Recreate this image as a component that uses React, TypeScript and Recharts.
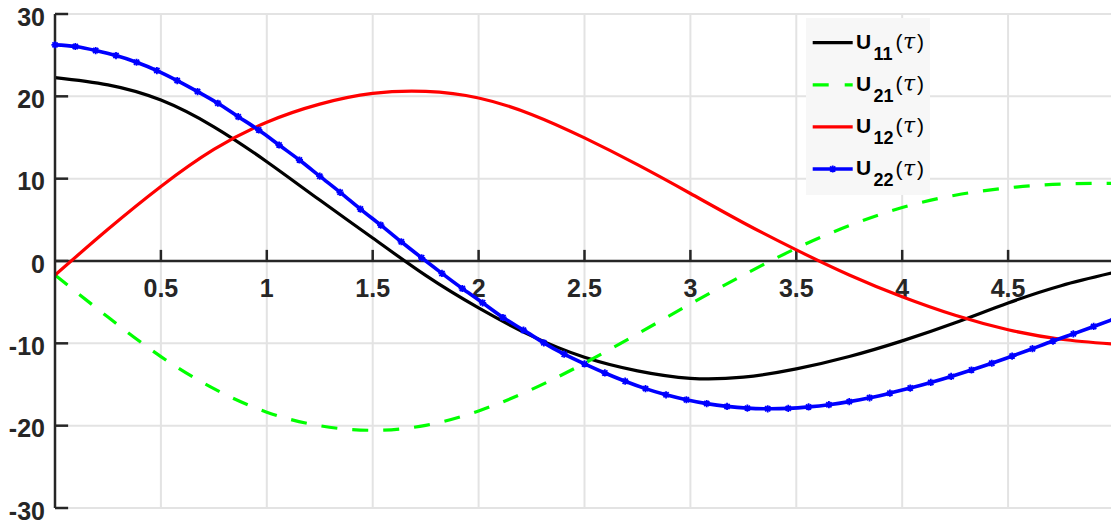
import React from 'react';
import { LineChart, Line, XAxis, YAxis, CartesianGrid, ReferenceLine, Legend } from 'recharts';

// ---- data ----
const tauCoarse = [0, 0.25, 0.5, 0.75, 1, 1.25, 1.5, 1.75, 2, 2.25, 2.5, 2.75, 3, 3.25, 3.5, 3.75, 4, 4.25, 4.5, 4.75, 5];
const u11Values = [22.28, 21.4, 19.55, 16.3, 12.06, 7.4, 2.8, -1.75, -5.7, -9.1, -11.7, -13.35, -14.25, -14.1, -13.1, -11.6, -9.7, -7.5, -5.1, -3.0, -1.4];
const u21Values = [-1.71, -6.81, -11.61, -15.51, -18.36, -20.01, -20.56, -19.96, -18.21, -15.61, -12.41, -8.86, -5.21, -1.71, 1.54, 4.29, 6.49, 7.99, 8.89, 9.34, 9.44];
const u12Values = [-1.71, 3.85, 9.05, 13.55, 16.85, 19.05, 20.35, 20.6, 19.8, 17.8, 14.95, 11.7, 8.2, 4.65, 1.35, -1.7, -4.35, -6.6, -8.35, -9.5, -10.1];

const tauFine = [0, 0.096, 0.192, 0.288, 0.385, 0.481, 0.577, 0.673, 0.769, 0.865, 0.962, 1.058, 1.154, 1.25, 1.346, 1.442, 1.538, 1.635, 1.731, 1.827, 1.923, 2.019, 2.115, 2.212, 2.308, 2.404, 2.5, 2.596, 2.692, 2.788, 2.885, 2.981, 3.077, 3.173, 3.269, 3.365, 3.462, 3.558, 3.654, 3.75, 3.846, 3.942, 4.038, 4.135, 4.231, 4.327, 4.423, 4.519, 4.615, 4.712, 4.808, 4.904, 5.0];
const u22Values = [26.25, 26.05, 25.56, 24.95, 24.14, 23.13, 21.91, 20.58, 19.16, 17.53, 15.91, 14.09, 12.27, 10.3, 8.34, 6.31, 4.36, 2.34, 0.39, -1.51, -3.34, -5.08, -6.86, -8.4, -9.94, -11.32, -12.5, -13.6, -14.6, -15.5, -16.25, -16.85, -17.32, -17.66, -17.87, -17.95, -17.9, -17.72, -17.45, -17.08, -16.62, -16.05, -15.43, -14.75, -14.02, -13.24, -12.42, -11.55, -10.65, -9.72, -8.85, -7.95, -7.05];

const xTicks = [0, 0.5, 1, 1.5, 2, 2.5, 3, 3.5, 4, 4.5, 5];
const xTickLabels = ['0.5', '1', '1.5', '2', '2.5', '3', '3.5', '4', '4.5'];
const yTicks = [-30, -20, -10, 0, 10, 20, 30];

const seriesNames = ['11', '21', '12', '22'];
const seriesColors = ['#000000', '#00ff00', '#ff0000', '#0000ff'];

const toPoints = (xs: number[], ys: number[]) => xs.map((x, i) => ({ x, y: ys[i] }));
const dataU11 = toPoints(tauCoarse, u11Values);
const dataU21 = toPoints(tauCoarse, u21Values);
const dataU12 = toPoints(tauCoarse, u12Values);
const dataU22 = toPoints(tauFine, u22Values);

const AXIS = '#262626';
const FONT = '"Liberation Sans", Arial, Helvetica, sans-serif';

const YTick = (props: any) => (
  <text x={props.x} y={props.y + 11.5} textAnchor="end" fontSize={25} fontWeight="bold" fill={AXIS} fontFamily={FONT}>
    {props.payload.value}
  </text>
);

const XTickLabel = (props: any) => {
  const vb = props.viewBox || {};
  const bottom = (vb.y || 0) + (vb.height || 0);
  return (
    <text x={vb.x} y={bottom + 35.5} textAnchor="middle" fontSize={25} fontWeight="bold" fill={AXIS} fontFamily={FONT}>
      {props.text}
    </text>
  );
};

const starPath = (cx: number, cy: number) =>
  `M${cx - 3.6},${cy}H${cx + 3.6}M${cx},${cy - 3.6}V${cy + 3.6}M${cx - 2.6},${cy - 2.6}L${cx + 2.6},${cy + 2.6}M${cx - 2.6},${cy + 2.6}L${cx + 2.6},${cy - 2.6}`;

const StarDot = (props: any) => {
  const { cx, cy, index } = props;
  if (cx == null || cy == null) return <g key={index} />;
  return <path key={index} d={starPath(cx, cy)} stroke="#0000ff" strokeWidth={1.8} fill="none" />;
};

const LegendBox = () => (
  <svg width={124} height={177} style={{ display: 'block', background: '#f7f7f7' }}>
    {seriesNames.map((s, i) => {
      const cy = 24.7 + 42.1 * i;
      return (
        <g key={s}>
          <line x1={6.7} x2={46.7} y1={cy} y2={cy} stroke={seriesColors[i]} strokeWidth={i === 3 ? 3.5 : 3.2}
            strokeDasharray={i === 1 ? '16 16' : undefined} />
          {i === 3 && <path d={starPath(26.7, cy)} stroke="#0000ff" strokeWidth={1.8} />}
          <text x={50} y={cy + 6.3} fontSize={21} fontWeight="bold" fill="#000" fontFamily={FONT}>U</text>
          <text x={67.5} y={cy + 17} fontSize={18} fontWeight="bold" fill="#000" fontFamily={FONT}>{s}</text>
          <text x={89.5} y={cy + 6.5} fontSize={21} fill="#000" fontFamily={FONT}>(</text>
          <text x={97} y={cy + 6.5} fontSize={22} fontStyle="italic" fill="#000" fontFamily='"DejaVu Serif", "Liberation Serif", serif'>τ</text>
          <text x={111} y={cy + 6.5} fontSize={21} fill="#000" fontFamily={FONT}>)</text>
        </g>
      );
    })}
  </svg>
);

export default function App() {
  return (
    <div style={{ position: 'absolute', left: 0, top: 0, width: 1111, height: 524, overflow: 'hidden', background: '#ffffff' }}>
      <LineChart width={1120} height={524} margin={{ top: 14, right: 6, bottom: 16, left: 0 }}>
        <CartesianGrid stroke="#e3e3e3" strokeWidth={2} />
        <XAxis type="number" dataKey="x" domain={[0, 5]} ticks={xTicks} hide />
        <YAxis type="number" domain={[-30, 30]} ticks={yTicks} interval={0} width={55}
          axisLine={{ stroke: AXIS, strokeWidth: 2.5 }} tickLine={false} tickSize={0} tickMargin={10} tick={YTick} />
        <ReferenceLine y={0} stroke={AXIS} strokeWidth={2.5} />
        {yTicks.map((v) => (
          <ReferenceLine key={'yt' + v} segment={[{ x: 0, y: v }, { x: 0.062, y: v }]} stroke={AXIS} strokeWidth={2.5} />
        ))}
        {xTickLabels.map((lab) => (
          <ReferenceLine key={'xt' + lab} segment={[{ x: Number(lab), y: 0 }, { x: Number(lab), y: 1.35 }]}
            stroke={AXIS} strokeWidth={2.5} label={<XTickLabel text={lab} />} />
        ))}
        <Line data={dataU11} dataKey="y" type="natural" stroke={seriesColors[0]} strokeWidth={3.2} dot={false} isAnimationActive={false} legendType="none" />
        <Line data={dataU21} dataKey="y" type="natural" stroke={seriesColors[1]} strokeWidth={3.2} strokeDasharray="16 15" dot={false} isAnimationActive={false} legendType="none" />
        <Line data={dataU12} dataKey="y" type="natural" stroke={seriesColors[2]} strokeWidth={3.2} dot={false} isAnimationActive={false} legendType="none" />
        <Line data={dataU22} dataKey="y" type="natural" stroke={seriesColors[3]} strokeWidth={3.6} dot={StarDot} isAnimationActive={false} legendType="none" />
        <Legend layout="vertical" align="center" verticalAlign="middle" content={LegendBox}
          wrapperStyle={{ left: 806, top: 18, width: 124, height: 177 }} />
      </LineChart>
    </div>
  );
}
